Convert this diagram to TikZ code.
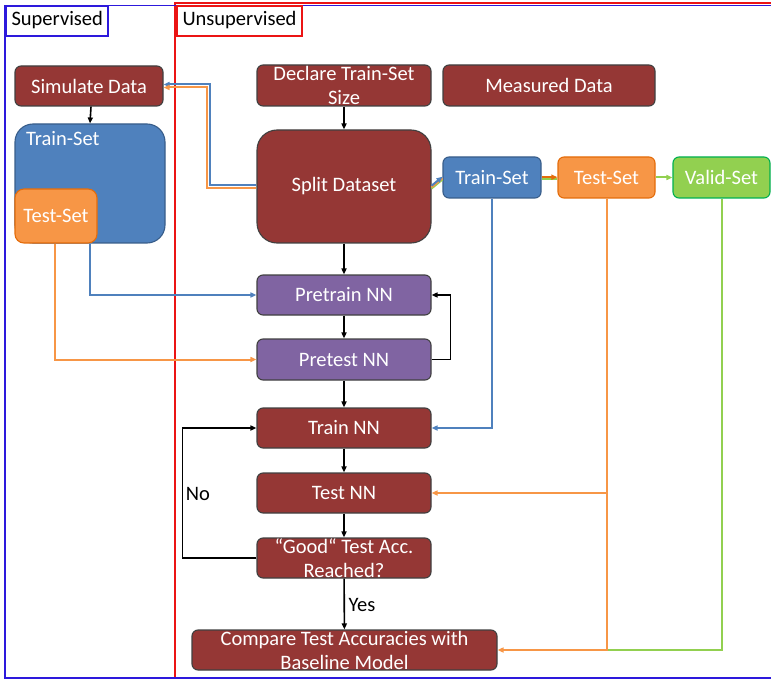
\documentclass[tikz,border=0pt]{standalone}
\usepackage{fontspec}
\setmainfont{Carlito}
\usetikzlibrary{arrows.meta}

\definecolor{boxred}{RGB}{149,55,53}
\definecolor{boxblue}{RGB}{79,129,189}
\definecolor{boxblueedge}{RGB}{56,93,138}
\definecolor{boxorange}{RGB}{247,150,70}
\definecolor{boxorangeedge}{RGB}{228,108,10}
\definecolor{boxgreen}{RGB}{146,208,80}
\definecolor{boxgreenedge}{RGB}{0,176,80}
\definecolor{boxpurple}{RGB}{128,100,162}
\definecolor{edgegray}{RGB}{64,64,64}
\definecolor{frameblue}{RGB}{45,25,220}
\definecolor{framered}{RGB}{235,20,20}

\tikzset{
  x=1pt, y=-1pt,
  every node/.style={font=\fontsize{20.5}{24}\selectfont},
  box/.style={draw=edgegray, line width=1.1pt, rounded corners=6pt,
    text=white, align=center, inner sep=0pt},
  redbox/.style={box, fill=boxred},
  purplebox/.style={box, fill=boxpurple},
  bluebox/.style={box, fill=boxblue, draw=boxblueedge},
  orangebox/.style={box, fill=boxorange, draw=boxorangeedge},
  greenbox/.style={box, fill=boxgreen, draw=boxgreenedge},
  tip/.style={-{Triangle[length=6pt,width=5pt]}},
  flow/.style={tip, line width=1.6pt, black},
  bluelink/.style={line width=2pt, boxblue},
  orangelink/.style={line width=2pt, boxorange},
  greenlink/.style={line width=2pt, boxgreen},
  tag/.style={draw, line width=1.6pt, fill=white, inner sep=0pt, anchor=north west},
}

\begin{document}
\begin{tikzpicture}
\useasboundingbox (0,0) rectangle (771,679);

% group frames
\draw[framered, line width=1.6pt] (772,2.8) -- (175,2.8) -- (175,678);
\draw[frameblue, line width=1.6pt] (772,5.4) -- (5,5.4) -- (5,678) -- (772,678);

\node[tag, draw=frameblue, minimum width=102, minimum height=30] (suptag) at (5,5) {};
\node[anchor=west] (suptext) at (8,20) {Supervised};
\node[tag, draw=framered, minimum width=125, minimum height=30] (unsuptag) at (176,5) {};
\node[anchor=west] (unsuptext) at (179,20) {Unsupervised};

% supervised branch
\node[redbox, minimum width=148, minimum height=40] (sim) at (89,86) {Simulate Data};
\node[bluebox, rounded corners=18pt, minimum width=150, minimum height=119] (trs) at (90,183.5) {};
\node[anchor=west, text=white, inner sep=0pt] (trslabel) at (26,139) {Train-Set};
\node[orangebox, rounded corners=9pt, minimum width=82, minimum height=54] (tss) at (56,216) {Test-Set};

% unsupervised branch
\node[redbox, minimum width=174, minimum height=41] (declare) at (344,85.5) {Declare Train-Set\\Size};
\node[redbox, minimum width=212, minimum height=41] (measured) at (549,85.5) {Measured Data};
\node[redbox, rounded corners=20pt, minimum width=174, minimum height=113] (split) at (344,186.5) {Split Dataset};
\node[bluebox, minimum width=98, minimum height=41] (trr) at (492,177.5) {Train-Set};
\node[orangebox, minimum width=97, minimum height=41] (tsr) at (606.5,177.5) {Test-Set};
\node[greenbox, minimum width=97, minimum height=41] (vsr) at (721.5,177.5) {Valid-Set};

\node[purplebox, minimum width=174, minimum height=40] (pretrain) at (344,295) {Pretrain NN};
\node[purplebox, minimum width=174, minimum height=41] (pretest) at (344,359.5) {Pretest NN};
\node[redbox, minimum width=174, minimum height=40] (trainnn) at (344,428) {Train NN};
\node[redbox, minimum width=174, minimum height=40] (testnn) at (344,493) {Test NN};
\node[redbox, minimum width=174, minimum height=40] (good) at (344,558) {“Good“ Test Acc.\\Reached?};
\node[redbox, minimum width=305, minimum height=40] (cmp) at (344.5,650) {Compare Test Accuracies with\\Baseline Model};

\node (nolabel) at (198,494) {No};
\node (yeslabel) at (362,605) {Yes};

% main flow
\draw[flow] ([xshift=2pt]sim.south) -- ([xshift=1pt]sim.south |- trs.north);
\draw[flow] (declare) -- (split);
\draw[flow] (split) -- (pretrain);
\draw[flow] (pretrain) -- (pretest);
\draw[flow] (pretest) -- (trainnn);
\draw[flow] (trainnn) -- (testnn);
\draw[flow] (testnn) -- (good);
\draw[flow] (good) -- (cmp);
\draw[flow] (pretest.east) -- ++(19,0) |- (pretrain.east);
\draw[flow] (good.west) -- ++(-74,0) |- (trainnn.west);

% dataset split links
\draw[bluelink, tip] ([yshift=1.5pt]split.west) -- ++(-46,0) |- ([yshift=1.5pt]sim.east);
\draw[orangelink, tip] ([yshift=-1.5pt]split.west) -- ++(-49,0) |- ([yshift=-1.5pt]sim.east);

\draw[greenlink] ([yshift=-2pt]split.east) -- ([yshift=-2pt]trr.west);
\draw[orangelink] ([yshift=-0.7pt]split.east) -- ([yshift=-0.7pt]trr.west);
\draw[bluelink, tip] ([yshift=0.8pt]split.east) -- ([yshift=0.8pt]trr.west);
\draw[greenlink] ([yshift=-2pt]trr.east) -- ([yshift=-2pt]tsr.west);
\draw[line width=2pt, boxorangeedge, tip] ([yshift=0.3pt]trr.east) -- ([yshift=0.3pt]tsr.west);
\draw[greenlink, tip] (tsr.east) -- (vsr.west);

% set usage links
\draw[bluelink, tip] (trr.south) |- (trainnn.east);
\draw[greenlink] (vsr.south) |- (tsr.south |- cmp.east);
\draw[orangelink, tip] (tsr.south) |- (cmp.east);
\draw[orangelink, tip] (tsr.south |- testnn.east) -- (testnn.east);

\draw[bluelink, tip] ([xshift=76pt]trs.south west) |- (pretrain.west);
\draw[orangelink, tip] ([xshift=-1pt]tss.south) |- (pretest.west);
\end{tikzpicture}
\end{document}
